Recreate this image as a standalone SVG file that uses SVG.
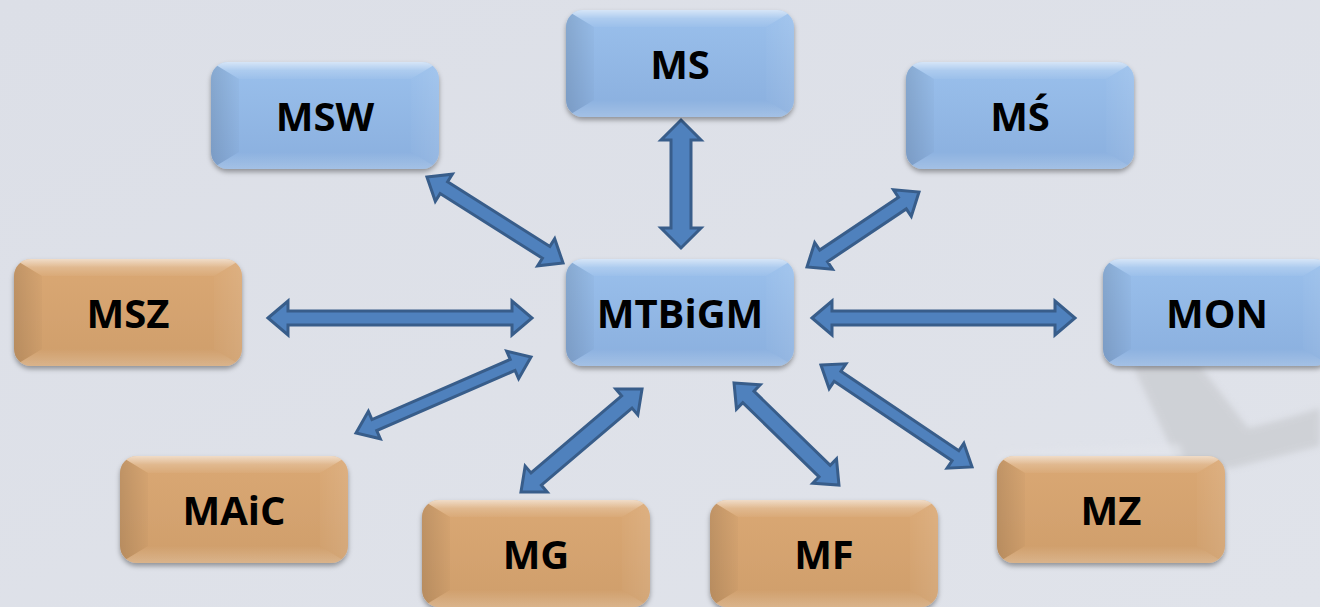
<svg xmlns="http://www.w3.org/2000/svg" xmlns:xlink="http://www.w3.org/1999/xlink" width="1320" height="607" viewBox="0 0 1320 607">
<style>
.node text{font-family:"Open Sans","Liberation Sans",sans-serif;font-weight:700;font-size:40px;fill:#000;text-anchor:middle}
.blue .box{fill:url(#gBlue)}
.orange .box{fill:url(#gOrange)}
.box{filter:url(#shadow)}
.arrow{fill:#4f81bd;stroke:#385d8a;stroke-width:3;stroke-linejoin:miter}
</style>
<defs>
<linearGradient id="gBlue" x1="0" y1="0" x2="0" y2="1">
<stop offset="0" stop-color="#9ac0ec"/>
<stop offset="1" stop-color="#8aafde"/>
</linearGradient>
<linearGradient id="gOrange" x1="0" y1="0" x2="0" y2="1">
<stop offset="0" stop-color="#daa874"/>
<stop offset="1" stop-color="#cf9e6b"/>
</linearGradient>
<linearGradient id="topG" x1="0" y1="0" x2="0" y2="1">
<stop offset="0" stop-color="#fff" stop-opacity="0.6"/>
<stop offset="0.5" stop-color="#fff" stop-opacity="0.2"/>
<stop offset="1" stop-color="#fff" stop-opacity="0.04"/>
</linearGradient>
<linearGradient id="botG" x1="0" y1="0" x2="0" y2="1">
<stop offset="0" stop-color="#fff" stop-opacity="0"/>
<stop offset="1" stop-color="#fff" stop-opacity="0.22"/>
</linearGradient>
<linearGradient id="leftG" x1="0" y1="0" x2="1" y2="0">
<stop offset="0" stop-color="#000" stop-opacity="0.12"/>
<stop offset="1" stop-color="#000" stop-opacity="0.02"/>
</linearGradient>
<linearGradient id="rightG" x1="0" y1="0" x2="1" y2="0">
<stop offset="0" stop-color="#fff" stop-opacity="0.02"/>
<stop offset="1" stop-color="#fff" stop-opacity="0.1"/>
</linearGradient>
<linearGradient id="bgG" x1="0" y1="0" x2="1" y2="1">
<stop offset="0" stop-color="#dcdfe7"/>
<stop offset="1" stop-color="#e0e3ea"/>
</linearGradient>
<filter id="shadow" x="-10%" y="-10%" width="120%" height="130%">
<feDropShadow dx="0" dy="3" stdDeviation="2.5" flood-color="#000" flood-opacity="0.35"/>
</filter>
<filter id="blur"><feGaussianBlur stdDeviation="3"/></filter>
<clipPath id="boxclip"><rect width="228" height="107" rx="17"/></clipPath>
<g id="bevel" clip-path="url(#boxclip)">
<polygon points="0,0 228,0 200,17 28,17" fill="url(#topG)"/>
<polygon points="0,0 28,17 28,90 0,107" fill="url(#leftG)"/>
<polygon points="228,0 200,17 200,90 228,107" fill="url(#rightG)"/>
<polygon points="0,107 28,90 200,90 228,107" fill="url(#botG)"/>
</g>
</defs>
<rect width="1320" height="607" fill="url(#bgG)"/>
<g id="background-shape" filter="url(#blur)" opacity="0.5">
<path d="M1133,366 L1200,366 L1248,428 Q1290,418 1320,408 L1320,446 Q1280,456 1232,468 L1180,468 Z" fill="#bfc1c4"/>
<path d="M1000,452 L1180,444 L1185,460 L1000,466 Z" fill="#e8eaef" opacity="0.6"/>
</g>
<g id="connectors">
<path class="arrow" transform="translate(495,220) rotate(32.3)" d="M-80.5,0 L-60.5,-16 L-60.5,-7 L60.5,-7 L60.5,-16 L80.5,0 L60.5,16 L60.5,7 L-60.5,7 L-60.5,16 Z"/>
<path class="arrow" transform="translate(681,184) rotate(90)" d="M-64,0 L-44,-20 L-44,-10 L44,-10 L44,-20 L64,0 L44,20 L44,10 L-44,10 L-44,20 Z"/>
<path class="arrow" transform="translate(863,229.5) rotate(-33.8)" d="M-67.4,0 L-47.4,-16 L-47.4,-7 L47.4,-7 L47.4,-16 L67.4,0 L47.4,16 L47.4,7 L-47.4,7 L-47.4,16 Z"/>
<path class="arrow" transform="translate(400,318)" d="M-132,0 L-112,-17 L-112,-7 L112,-7 L112,-17 L132,0 L112,17 L112,7 L-112,7 L-112,17 Z"/>
<path class="arrow" transform="translate(943.5,318)" d="M-131.5,0 L-111.5,-17 L-111.5,-7 L111.5,-7 L111.5,-17 L131.5,0 L111.5,17 L111.5,7 L-111.5,7 L-111.5,17 Z"/>
<path class="arrow" transform="translate(443.5,395) rotate(-23.5)" d="M-95.4,0 L-75.4,-15 L-75.4,-6 L75.4,-6 L75.4,-15 L95.4,0 L75.4,15 L75.4,6 L-75.4,6 L-75.4,15 Z"/>
<path class="arrow" transform="translate(581.5,440.5) rotate(-40.4)" d="M-79.5,0 L-59.5,-17 L-59.5,-8 L59.5,-8 L59.5,-17 L79.5,0 L59.5,17 L59.5,8 L-59.5,8 L-59.5,17 Z"/>
<path class="arrow" transform="translate(786.5,434) rotate(44.2)" d="M-73.2,0 L-53.2,-17 L-53.2,-8 L53.2,-8 L53.2,-17 L73.2,0 L53.2,17 L53.2,8 L-53.2,8 L-53.2,17 Z"/>
<path class="arrow" transform="translate(896.5,416) rotate(34)" d="M-91.1,0 L-71.1,-15 L-71.1,-6 L71.1,-6 L71.1,-15 L91.1,0 L71.1,15 L71.1,6 L-71.1,6 L-71.1,15 Z"/>
</g>
<g id="node-MS" class="node blue" transform="translate(566,10)">
<rect class="box" width="228" height="107" rx="17"/><use href="#bevel"/><text x="114" y="69">MS</text>
</g>
<g id="node-MSW" class="node blue" transform="translate(211,62)">
<rect class="box" width="228" height="107" rx="17"/><use href="#bevel"/><text x="114" y="69">MSW</text>
</g>
<g id="node-MSacute" class="node blue" transform="translate(906,62)">
<rect class="box" width="228" height="107" rx="17"/><use href="#bevel"/><text x="114" y="69">MŚ</text>
</g>
<g id="node-MSZ" class="node orange" transform="translate(14,259)">
<rect class="box" width="228" height="107" rx="17"/><use href="#bevel"/><text x="114" y="69">MSZ</text>
</g>
<g id="node-MTBiGM" class="node blue" transform="translate(566,259)">
<rect class="box" width="228" height="107" rx="17"/><use href="#bevel"/><text x="114" y="69">MTBiGM</text>
</g>
<g id="node-MON" class="node blue" transform="translate(1103,259)">
<rect class="box" width="228" height="107" rx="17"/><use href="#bevel"/><text x="114" y="69">MON</text>
</g>
<g id="node-MAiC" class="node orange" transform="translate(120,456)">
<rect class="box" width="228" height="107" rx="17"/><use href="#bevel"/><text x="114" y="69">MAiC</text>
</g>
<g id="node-MG" class="node orange" transform="translate(422,500)">
<rect class="box" width="228" height="107" rx="17"/><use href="#bevel"/><text x="114" y="69">MG</text>
</g>
<g id="node-MF" class="node orange" transform="translate(710,500)">
<rect class="box" width="228" height="107" rx="17"/><use href="#bevel"/><text x="114" y="69">MF</text>
</g>
<g id="node-MZ" class="node orange" transform="translate(997,456)">
<rect class="box" width="228" height="107" rx="17"/><use href="#bevel"/><text x="114" y="69">MZ</text>
</g>
</svg>
